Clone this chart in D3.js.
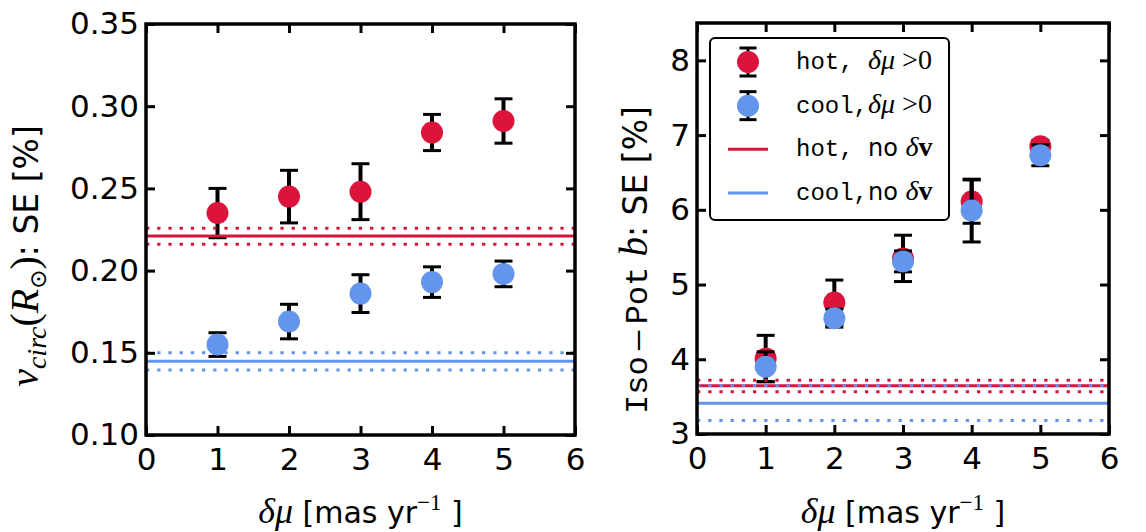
<!DOCTYPE html>
<html>
<head>
<meta charset="utf-8">
<script src="https://cdn.jsdelivr.net/npm/d3@7"></script>
<style>
  body { margin: 0; background: #fff; }
  svg text { font-family: "DejaVu Sans", sans-serif; fill: #000; }
</style>
</head>
<body>
<svg id="chart" width="1146" height="532"></svg>
<script>
// proper-motion error, mas/yr
const dmu = [1, 2, 3, 4, 5]
const xTicks = [0, 1, 2, 3, 4, 5, 6]

// left panel: v_circ(R_sun) standard error [%]
const vcHot = [0.235, 0.245, 0.248, 0.284, 0.291]
const vcHotErr = [0.015, 0.016, 0.017, 0.011, 0.0135]
const vcCool = [0.155, 0.169, 0.186, 0.193, 0.198]
const vcCoolErr = [0.0072, 0.0105, 0.0115, 0.0093, 0.0078]
// no dv reference: [lower, value, upper]
const vcHotRef = [0.216, 0.221, 0.2257]
const vcCoolRef = [0.1395, 0.1448, 0.150]
const vcTicks = [0.10, 0.15, 0.20, 0.25, 0.30, 0.35]

// right panel: Iso-Pot b standard error [%]
const bHot = [4.01, 4.76, 5.35, 6.11, 6.85]
const bHotErr = [0.31, 0.30, 0.31, 0.29, 0.08]
const bCool = [3.90, 4.55, 5.31, 5.99, 6.73]
const bCoolErr = [0.20, 0.12, 0.14, 0.42, 0.14]
const bHotRef = [3.566, 3.646, 3.72]
const bCoolRef = [3.18, 3.41, 3.646]
const bTicks = [3, 4, 5, 6, 7, 8]

const hotColor = '#dc143c'
const coolColor = '#6495ed'

const SANS = '"DejaVu Sans", sans-serif'
const SERIF = '"Liberation Serif", "DejaVu Serif", serif'
const MONO = '"Liberation Mono", "DejaVu Sans Mono", monospace'

const svg = d3.select('#chart')

// append tspans with their own font, size and vertical shift
function richText(sel, parts) {
  parts.forEach((p) => {
    const t = sel.append('tspan').text(p.t)
    t.attr('font-family', p.f || SANS)
    if (p.it) t.attr('font-style', 'italic')
    if (p.bold) t.attr('font-weight', 'bold')
    if (p.sz) t.attr('font-size', p.sz)
    if (p.dy) t.attr('dy', p.dy)
  })
  return sel
}

const panels = [
  {
    box: [146, 575, 24, 435],
    yDomain: [0.10, 0.35],
    yTicks: vcTicks,
    fmt: d3.format('.2f'),
    series: [
      { v: vcHot, e: vcHotErr, c: hotColor },
      { v: vcCool, e: vcCoolErr, c: coolColor },
    ],
    refs: [
      { r: vcHotRef, c: hotColor },
      { r: vcCoolRef, c: coolColor },
    ],
    ylabel: [
      { t: 'v', f: SERIF, it: true, sz: 40 },
      { t: 'circ', f: SERIF, it: true, sz: 28, dy: 8 },
      { t: '(', f: SERIF, sz: 40, dy: -8 },
      { t: 'R', f: SERIF, it: true, sz: 40 },
      { t: '⊙', f: SANS, sz: 23, dy: 8 },
      { t: ')', f: SERIF, sz: 40, dy: -8 },
      { t: ': SE [%]', sz: 33 },
    ],
    ylabelPos: [38, 256],
  },
  {
    box: [697, 1109, 23, 434],
    yDomain: [3, 8.5],
    yTicks: bTicks,
    fmt: d3.format('d'),
    series: [
      { v: bHot, e: bHotErr, c: hotColor },
      { v: bCool, e: bCoolErr, c: coolColor },
    ],
    refs: [
      { r: bHotRef, c: hotColor },
      { r: bCoolRef, c: coolColor },
    ],
    ylabel: [
      { t: 'Iso\u2009—\u2009Pot', f: MONO, sz: 32 },
      { t: ' ', sz: 32 },
      { t: 'b', f: SERIF, it: true, sz: 39 },
      { t: ': SE [%]', sz: 33 },
    ],
    ylabelPos: [647, 260],
    legend: true,
  },
]

const xlabelParts = [
  { t: 'δμ', f: SERIF, it: true, sz: 36 },
  { t: ' [mas yr', sz: 30 },
  { t: '−1', f: SERIF, sz: 23, dy: -13 },
  { t: ' ]', sz: 30, dy: 13 },
]

panels.forEach((p) => {
  const [x0, x1, y0, y1] = p.box
  const x = d3.scaleLinear().domain([0, 6]).range([x0, x1])
  const y = d3.scaleLinear().domain(p.yDomain).range([y1, y0])
  const g = svg.append('g')

  // error bars and markers
  p.series.forEach((s) => {
    const pts = dmu.map((d, i) => ({ x: d, v: s.v[i], e: s.e[i] }))
    const sg = g.append('g')
    sg.selectAll('line.bar')
      .data(pts)
      .join('line')
      .attr('x1', (d) => x(d.x))
      .attr('x2', (d) => x(d.x))
      .attr('y1', (d) => y(d.v - d.e))
      .attr('y2', (d) => y(d.v + d.e))
      .attr('stroke', '#000')
      .attr('stroke-width', 4)
    ;['lo', 'hi'].forEach((k) => {
      sg.selectAll('line.cap' + k)
        .data(pts)
        .join('line')
        .attr('x1', (d) => x(d.x) - 9)
        .attr('x2', (d) => x(d.x) + 9)
        .attr('y1', (d) => y(k === 'lo' ? d.v - d.e : d.v + d.e))
        .attr('y2', (d) => y(k === 'lo' ? d.v - d.e : d.v + d.e))
        .attr('stroke', '#000')
        .attr('stroke-width', 3)
    })
    sg.selectAll('circle')
      .data(pts)
      .join('circle')
      .attr('cx', (d) => x(d.x))
      .attr('cy', (d) => y(d.v))
      .attr('r', 11)
      .attr('fill', s.c)
  })

  // reference levels without velocity errors
  p.refs.forEach((rf) => {
    rf.r.forEach((val, i) => {
      g.append('line')
        .attr('x1', x0)
        .attr('x2', x1)
        .attr('y1', y(val))
        .attr('y2', y(val))
        .attr('stroke', rf.c)
        .attr('stroke-width', 3)
        .attr('stroke-dasharray', i === 1 ? null : '3.3 7.9')
    })
  })

  // axes, ticks pointing inward
  const xb = svg.append('g').attr('transform', `translate(0,${y1})`)
    .call(d3.axisBottom(x).tickValues(xTicks).tickSize(-9).tickPadding(13).tickFormat(d3.format('d')))
  const xt = svg.append('g').attr('transform', `translate(0,${y0})`)
    .call(d3.axisTop(x).tickValues(xTicks).tickSize(-9).tickFormat(''))
  const yl = svg.append('g').attr('transform', `translate(${x0},0)`)
    .call(d3.axisLeft(y).tickValues(p.yTicks).tickSize(-9).tickPadding(7).tickFormat(p.fmt))
  const yr = svg.append('g').attr('transform', `translate(${x1},0)`)
    .call(d3.axisRight(y).tickValues(p.yTicks).tickSize(-9).tickFormat(''))
  ;[xb, xt, yl, yr].forEach((a) => {
    a.select('.domain').remove()
    a.selectAll('.tick line').attr('stroke', '#000').attr('stroke-width', 3)
    a.selectAll('.tick text').attr('font-size', 31).attr('font-family', SANS).attr('fill', '#000')
  })

  svg.append('rect')
    .attr('x', x0).attr('y', y0)
    .attr('width', x1 - x0).attr('height', y1 - y0)
    .attr('fill', 'none').attr('stroke', '#000').attr('stroke-width', 3.5)

  richText(svg.append('text').attr('x', (x0 + x1) / 2).attr('y', 523).attr('text-anchor', 'middle'), xlabelParts)

  richText(
    svg.append('text')
      .attr('transform', `translate(${p.ylabelPos[0]},${p.ylabelPos[1]}) rotate(-90)`)
      .attr('text-anchor', 'middle'),
    p.ylabel
  )

  if (p.legend) drawLegend()
})

function drawLegend() {
  const lg = svg.append('g')
  lg.append('rect')
    .attr('x', 710).attr('y', 38).attr('width', 239).attr('height', 182).attr('rx', 5)
    .attr('fill', '#fff').attr('stroke', '#000').attr('stroke-width', 2)

  const rows = [
    { kind: 'err', c: hotColor, parts: [{ t: 'hot, ', f: MONO, sz: 24 }, { t: 'δμ', f: SERIF, it: true, sz: 28 }, { t: ' >0', f: SERIF, sz: 28 }] },
    { kind: 'err', c: coolColor, parts: [{ t: 'cool,', f: MONO, sz: 24 }, { t: 'δμ', f: SERIF, it: true, sz: 28 }, { t: ' >0', f: SERIF, sz: 28 }] },
    { kind: 'line', c: hotColor, parts: [{ t: 'hot, ', f: MONO, sz: 24 }, { t: 'no ', sz: 24 }, { t: 'δ', f: SERIF, it: true, sz: 28 }, { t: 'v', f: SERIF, bold: true, sz: 28 }] },
    { kind: 'line', c: coolColor, parts: [{ t: 'cool,', f: MONO, sz: 24 }, { t: 'no ', sz: 24 }, { t: 'δ', f: SERIF, it: true, sz: 28 }, { t: 'v', f: SERIF, bold: true, sz: 28 }] },
  ]
  const rowY = d3.scalePoint().domain(d3.range(rows.length)).range([62, 193])
  rows.forEach((r, i) => {
    const cy = rowY(i)
    if (r.kind === 'err') {
      lg.append('line').attr('x1', 748).attr('x2', 748).attr('y1', cy - 14).attr('y2', cy + 14)
        .attr('stroke', '#000').attr('stroke-width', 3)
      ;[-14, 14].forEach((o) => {
        lg.append('line').attr('x1', 739.5).attr('x2', 756.5).attr('y1', cy + o).attr('y2', cy + o)
          .attr('stroke', '#000').attr('stroke-width', 3)
      })
      lg.append('circle').attr('cx', 748).attr('cy', cy).attr('r', 11).attr('fill', r.c)
    } else {
      lg.append('line').attr('x1', 728).attr('x2', 768).attr('y1', cy).attr('y2', cy)
        .attr('stroke', r.c).attr('stroke-width', 3)
    }
    richText(lg.append('text').attr('x', 796).attr('y', cy + 7), r.parts)
  })
}
</script>
</body>
</html>
